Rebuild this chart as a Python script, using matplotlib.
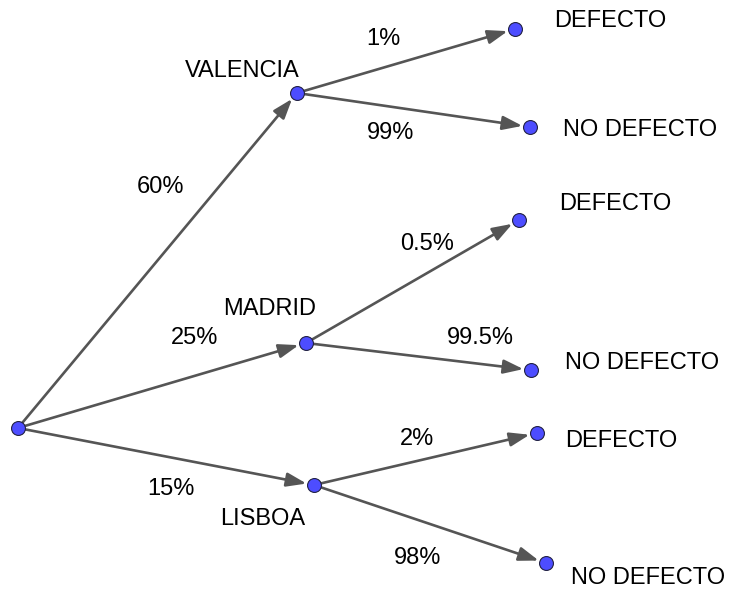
import matplotlib.pyplot as plt

plt.rcParams['font.family'] = ['Liberation Sans', 'DejaVu Sans']

# nodes of the tree (pixel positions)
root = (18, 428)
cities = ['VALENCIA', 'MADRID', 'LISBOA']
city_xy = [(297, 93), (306, 343), (314, 485)]
city_pct = ['60%', '25%', '15%']
city_pct_xy = [(160, 187), (195, 338), (171, 489)]
city_label_xy = [(242, 71), (270, 309), (263, 519)]

leaf_names = ['DEFECTO', 'NO DEFECTO']
leaf_xy = [[(515, 29), (530, 127)],
           [(519, 220), (531, 370)],
           [(537, 433), (546, 563)]]
leaf_pct = [['1%', '99%'], ['0.5%', '99.5%'], ['2%', '98%']]
leaf_pct_xy = [[(383, 39), (391, 133)],
               [(427, 244), (480, 338)],
               [(417, 439), (418, 558)]]
leaf_label_xy = [[(554, 21), (563, 130)],
                 [(559, 204), (565, 363)],
                 [(565, 441), (571, 578)]]

line_col = '#555555'
node_col = '#4d4dff'
fs = 17

fig = plt.figure(figsize=(7.32, 5.90), dpi=100)
ax = fig.add_axes([0, 0, 1, 1])
ax.set_xlim(0, 732)
ax.set_ylim(590, 0)
ax.axis('off')


def arrow(a, b):
    ax.annotate('', xy=b, xytext=a, xycoords='data',
                arrowprops=dict(arrowstyle='-|>,head_length=1.0,head_width=0.35',
                                color=line_col, lw=1.9, shrinkA=0, shrinkB=5.5,
                                mutation_scale=12))


def node(p):
    ax.plot(p[0], p[1], 'o', ms=10, color=node_col, mec='#222244', mew=0.8, zorder=5)


for i in range(3):
    arrow(root, city_xy[i])
    for j in range(2):
        arrow(city_xy[i], leaf_xy[i][j])
        node(leaf_xy[i][j])
        ax.text(leaf_pct_xy[i][j][0], leaf_pct_xy[i][j][1], leaf_pct[i][j],
                fontsize=fs, ha='center', va='center')
        ax.text(leaf_label_xy[i][j][0], leaf_label_xy[i][j][1], leaf_names[j],
                fontsize=fs, ha='left', va='center')
    node(city_xy[i])
    ax.text(city_pct_xy[i][0], city_pct_xy[i][1], city_pct[i],
            fontsize=fs, ha='center', va='center')
    ax.text(city_label_xy[i][0], city_label_xy[i][1], cities[i],
            fontsize=fs, ha='center', va='center')

node(root)

plt.savefig('out.png', dpi=100)
